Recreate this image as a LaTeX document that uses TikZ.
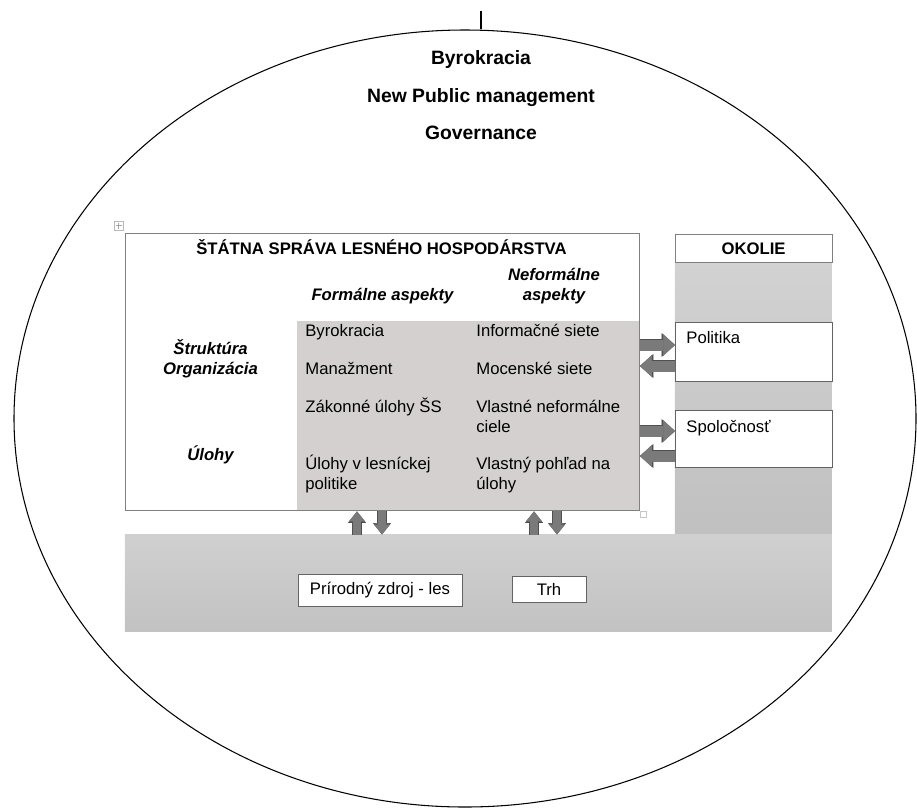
\documentclass[tikz,border=0pt]{standalone}
\usepackage{fontspec}
\setmainfont{Liberation Sans}
\usetikzlibrary{shapes,arrows.meta,positioning}

\definecolor{cellgray}{RGB}{212,208,208}
\definecolor{framegray}{RGB}{128,128,128}
\definecolor{boxline}{RGB}{100,100,100}
\definecolor{arrowfill}{RGB}{122,122,122}
\definecolor{arrowline}{RGB}{80,80,80}

\begin{document}
\begin{tikzpicture}[
  txt/.style={inner sep=0pt,font=\fontsize{9.5}{11.3}\selectfont},
  hdr/.style={inner sep=0pt,align=center,font=\bfseries\itshape\fontsize{9.5}{11.3}\selectfont},
  toplbl/.style={inner sep=0pt,anchor=base,font=\bfseries\fontsize{11}{13}\selectfont},
  cell/.style={txt,anchor=base west,align=left},
  whitebox/.style={draw=boxline,fill=white,inner sep=0pt},
  hfat/.style={draw=arrowfill,line width=0.22cm,-{Triangle[width=0.44cm,length=0.24cm,line width=0.4pt]},
    preaction={draw=arrowline,line width=0.25cm,-{Triangle[width=0.48cm,length=0.27cm,line width=0.4pt]}}},
  vfat/.style={draw=arrowfill,line width=0.17cm,-{Triangle[width=0.32cm,length=0.2cm,line width=0.4pt]},
    preaction={draw=arrowline,line width=0.2cm,-{Triangle[width=0.36cm,length=0.23cm,line width=0.4pt]}}}
]
\useasboundingbox (0,0) rectangle (18.34,-16.16);

% Outer ellipse
\node[draw,ellipse,minimum width=18.04cm,minimum height=15.54cm,inner sep=0pt,line width=0.6pt](frame) at (9.30,-8.37){};
\coordinate (tick) at (9.62,-0.22);
\draw[line width=0.6pt] (tick) -- (tick |- frame.north);

% Top labels
\node[toplbl](byr) at (9.62,-1.28){Byrokracia};
\node[toplbl](npm) at ([yshift=-0.76cm]byr.base){New Public management};
\node[toplbl](gov) at ([yshift=-0.74cm]npm.base){Governance};

% Background fields
\node[anchor=north west,inner sep=0pt,minimum width=3.14cm,minimum height=5.45cm,
  top color={rgb,255:red,210;green,210;blue,210},bottom color={rgb,255:red,192;green,192;blue,192}](col) at (13.49,-5.24){};
\node[anchor=north west,inner sep=0pt,minimum width=14.14cm,minimum height=1.94cm,
  top color={rgb,255:red,208;green,208;blue,208},bottom color={rgb,255:red,194;green,194;blue,194}](band) at (2.49,-10.69){};

% Main box
\fill[cellgray] (5.94,-6.41) rectangle (12.77,-10.20);
\node[draw=framegray,line width=0.8pt,anchor=north west,inner sep=0pt,minimum width=10.28cm,minimum height=5.55cm](main) at (2.49,-4.65){};
\draw[gray!55,line width=0.3pt] (2.28,-4.42) rectangle (2.46,-4.60);
\draw[gray!70,line width=0.3pt] (2.37,-4.45) -- (2.37,-4.57) (2.31,-4.51) -- (2.43,-4.51);
\draw[gray!45,line width=0.3pt] (12.81,-10.22) rectangle (12.93,-10.34);

\node[txt,anchor=base,font=\bfseries\fontsize{9.5}{11.3}\selectfont](title) at (7.63,-5.09){ŠTÁTNA SPRÁVA LESNÉHO HOSPODÁRSTVA};
\node[hdr,anchor=base](formal) at (7.65,-6.00){Formálne aspekty};
\node[hdr,anchor=base](neformal) at (11.08,-6.00){Neformálne\\aspekty};
\node[hdr,anchor=base](struktura) at (4.21,-7.48){Štruktúra\\Organizácia};
\node[hdr,anchor=base](ulohy) at (4.21,-9.21){Úlohy};

% Cells (base = last line)
\node[cell](f1) at (6.10,-6.72){Byrokracia};
\node[cell](f2) at ([yshift=-0.76cm]f1.base west){Manažment};
\node[cell](f3) at ([yshift=-0.77cm]f2.base west){Zákonné úlohy ŠS};
\node[cell](f4) at ([yshift=-1.53cm]f3.base west){Úlohy v lesníckej\\politike};
\node[cell](n1) at ([xshift=3.42cm]f1.base west){Informačné siete};
\node[cell](n2) at ([xshift=3.42cm]f2.base west){Mocenské siete};
\node[cell](n3) at ([xshift=3.42cm,yshift=-0.40cm]f3.base west){Vlastné neformálne\\ciele};
\node[cell](n4) at ([xshift=3.42cm]f4.base west){Vlastný pohľad na\\úlohy};

% Okolie
\node[draw=framegray,fill=white,line width=0.6pt,anchor=north west,inner sep=0pt,minimum width=3.14cm,minimum height=0.57cm,
  font=\bfseries\fontsize{9.5}{11.3}\selectfont](okolie) at (13.49,-4.67){OKOLIE};
\node[whitebox,anchor=north west,minimum width=3.13cm,minimum height=1.17cm](pol) at (13.50,-6.44){};
\node[txt,anchor=base west](poltxt) at ([xshift=0.22cm,yshift=-0.43cm]pol.north west){Politika};
\node[whitebox,anchor=north west,minimum width=3.14cm,minimum height=1.14cm](spol) at (13.50,-8.20){};
\node[txt,anchor=base west](spoltxt) at ([xshift=0.22cm,yshift=-0.44cm]spol.north west){Spoločnosť};

% Bottom boxes
\node[whitebox,txt,draw=boxline,minimum width=3.28cm,minimum height=0.64cm](zdroj) at (7.60,-11.81){Prírodný zdroj - les};
\node[whitebox,txt,draw=boxline,minimum width=1.48cm,minimum height=0.52cm](trh) at (10.98,-11.78){Trh};

%% Arrows
\draw[hfat] (main.east |- 0,-6.90) -- (pol.west |- 0,-6.90);
\draw[hfat] (pol.west |- 0,-7.32) -- (main.east |- 0,-7.32);
\draw[hfat] (main.east |- 0,-8.62) -- (spol.west |- 0,-8.62);
\draw[hfat] (spol.west |- 0,-9.12) -- (main.east |- 0,-9.12);
\draw[vfat] (band.north -| 7.14,0) -- (main.south -| 7.14,0);
\draw[vfat] (main.south -| 7.64,0) -- (band.north -| 7.64,0);
\draw[vfat] (band.north -| 10.68,0) -- (main.south -| 10.68,0);
\draw[vfat] (main.south -| 11.14,0) -- (band.north -| 11.14,0);

\end{tikzpicture}
\end{document}
